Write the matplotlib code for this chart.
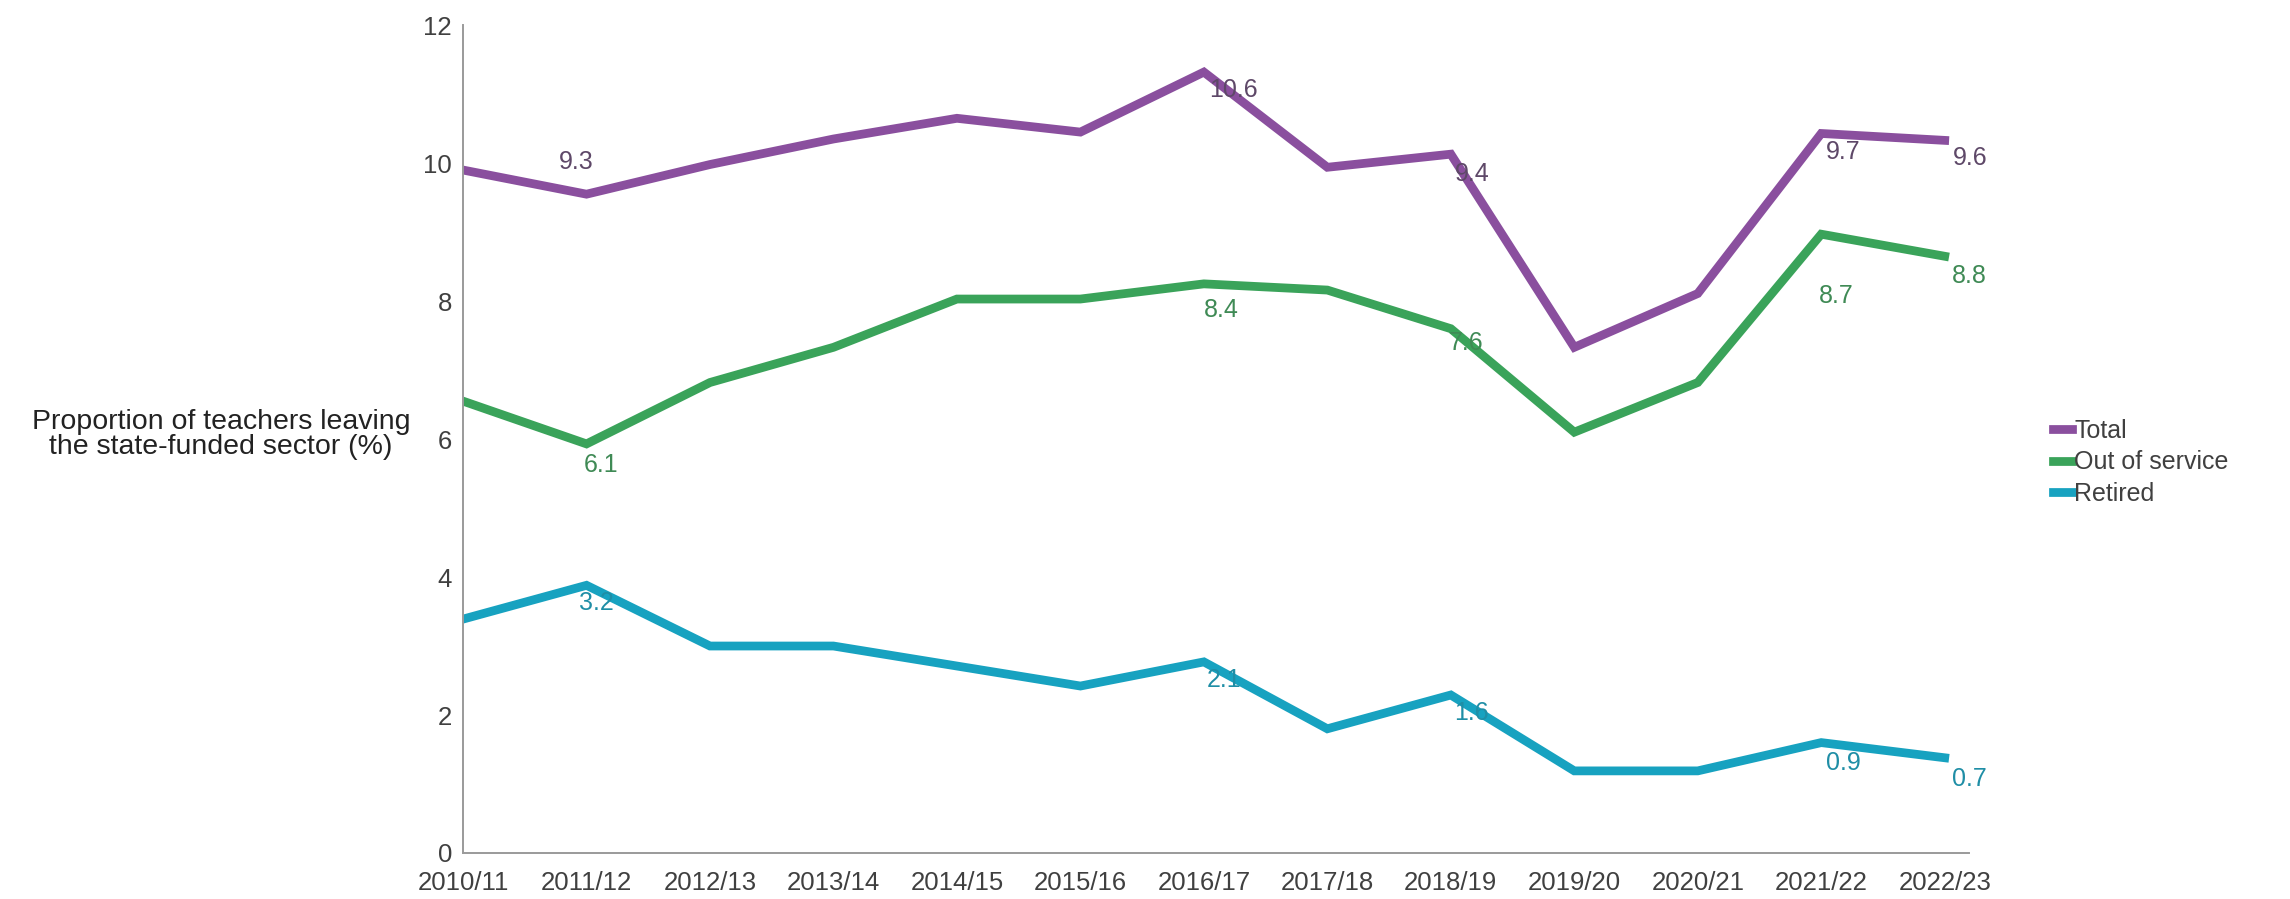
import matplotlib
matplotlib.use("Agg")
import matplotlib.pyplot as plt
import numpy as np

years = ["2010/11", "2011/12", "2012/13", "2013/14", "2014/15", "2015/16",
         "2016/17", "2017/18", "2018/19", "2019/20", "2020/21", "2021/22", "2022/23"]

total = [9.9, 9.55, 9.98, 10.35, 10.65, 10.45, 11.32, 9.94, 10.13, 7.33, 8.11, 10.43, 10.33]
out_of_service = [6.55, 5.93, 6.82, 7.33, 8.03, 8.03, 8.25, 8.16, 7.6, 6.1, 6.82, 8.97, 8.65]
retired = [3.39, 3.88, 3.0, 3.0, 2.71, 2.42, 2.77, 1.8, 2.29, 1.19, 1.19, 1.6, 1.38]

# data labels: (index, text)
total_labels = [(1, "9.3"), (6, "10.6"), (8, "9.4"), (11, "9.7"), (12, "9.6")]
oos_labels = [(1, "6.1"), (6, "8.4"), (8, "7.6"), (11, "8.7"), (12, "8.8")]
retired_labels = [(1, "3.2"), (6, "2.1"), (8, "1.6"), (11, "0.9"), (12, "0.7")]

# label offsets in pixels (dx, dy), dy positive = up
total_off = [(-10, 32), (30, -18), (21, -20), (22, -19), (25, -18)]
oos_off = [(15, -21), (17, -26), (15, -14), (15, -62), (25, -20)]
retired_off = [(10, -18), (20, -18), (21, -18), (22, -20), (25, -21)]

plt.rcParams['font.family'] = ['Liberation Sans', 'DejaVu Sans']

fig = plt.figure(figsize=(22.9, 8.99), dpi=100)
ax = fig.add_axes([0.2022, 0.0512, 0.860 - 0.2022, 0.972 - 0.0512])

x = np.arange(len(years))
series = [
    ("Total", total, "#8a4f9e", "#5e4868", total_labels, total_off),
    ("Out of service", out_of_service, "#3aa35a", "#3f8a55", oos_labels, oos_off),
    ("Retired", retired, "#17a2c0", "#1f8ea6", retired_labels, retired_off),
]

for name, vals, col, lcol, labs, offs in series:
    ax.plot(x, vals, color=col, lw=6.3, label=name, solid_joinstyle='miter')
    for (i, txt), (dx, dy) in zip(labs, offs):
        ax.annotate(txt, (x[i], vals[i]), xytext=(dx, dy), textcoords='offset pixels',
                    ha='center', va='center', fontsize=18, color=lcol)

ax.set_xlim(0, 12.2)
ax.set_ylim(0, 12)
ax.set_yticks(range(0, 13, 2))
ax.set_xticks(x)
ax.set_xticklabels(years)
ax.tick_params(length=0, labelsize=18.5, labelcolor="#404040")
ax.tick_params(axis='x', pad=13)
ax.tick_params(axis='y', pad=8)
for s in ["top", "right"]:
    ax.spines[s].set_visible(False)
for s in ["left", "bottom"]:
    ax.spines[s].set_color("#9a9a9a")
    ax.spines[s].set_linewidth(1.4)

fig.text(0.0965, 0.517, "Proportion of teachers leaving\nthe state-funded sector (%)",
         ha='center', va='center', fontsize=20.5, color="#222222", linespacing=0.95,
         multialignment='center')

fig.legend(loc='upper left', bbox_to_anchor=(0.891, 0.548), frameon=False,
           fontsize=18, handlelength=0.75, handletextpad=0.1, labelspacing=0.3,
           borderpad=0, labelcolor="#404040")

fig.savefig("out.png", dpi=100)
